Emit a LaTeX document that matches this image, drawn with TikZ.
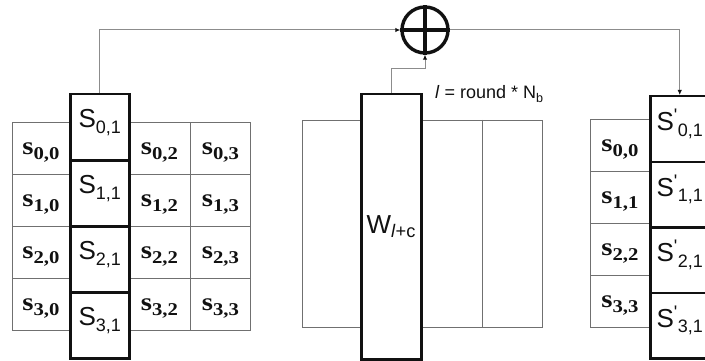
\documentclass[tikz,border=0pt]{standalone}
\usepackage{graphicx}
\usepackage{fontspec}
\setmainfont{Liberation Sans}
\newfontfamily\serifbold{Liberation Serif}
\usetikzlibrary{arrows.meta}
\definecolor{paper}{HTML}{FFFFFF}
\definecolor{ink}{HTML}{111111}
\definecolor{rule}{HTML}{707070}
\definecolor{wiregray}{HTML}{8C8C8C}
\tikzset{
  gridcell/.style={draw=rule,line width=.9pt,anchor=north west,
                   inner sep=0pt,minimum height=52pt},
  wordbox/.style={draw=ink,line width=2.5pt,fill=paper,anchor=north west,
                  inner sep=0pt,minimum width=59pt},
  wire/.style={draw=wiregray,line width=1pt},
  feed/.style={-{Latex[length=5pt,width=4.5pt,color=ink]}},
  every node/.style={text=ink}
}
\newcommand{\cellfont}{\serifbold\bfseries\fontsize{25}{25}\selectfont}
\newcommand{\colfont}{\fontsize{26}{26}\selectfont}
\newcommand{\wordfont}{\fontsize{26}{26}\selectfont}
\newcommand{\notefont}{\fontsize{18}{18}\selectfont}
\newcommand{\cellsym}[1]{\scalebox{1.15}[1]{s\raisebox{-.2em}{\fontsize{18}{18}\selectfont #1}}}
\newcommand{\colsym}[1]{S\raisebox{-.22em}{\fontsize{18}{18}\selectfont #1}}
\newcommand{\newsym}[1]{S\textsuperscript{\textquotesingle}\raisebox{-.22em}{\fontsize{18}{18}\selectfont #1}}

\begin{document}
\begin{tikzpicture}[x=1pt,y=-1pt]
  \useasboundingbox (0,0) rectangle (705,361);
  \clip (0,0) rectangle (705,361);
  \fill[paper] (0,0) rectangle (705,361);

  % ======================== LEFT STATE ========================
  \foreach \r in {0,...,3}{
    \foreach \c/\x/\w in {0/12/57,2/128/62,3/190/60}{
      \node[gridcell,minimum width=\w pt,
            label={[font=\cellfont,yshift=-4pt]center:\cellsym{\r,\c}}]
        (ls\r\c) at (\x,122+52*\r) {};
    }
  }
  % highlighted column
  \foreach \r in {0,...,3}{
    \node[wordbox,minimum height=66pt,
          label={[font=\colfont,anchor=north,inner sep=0pt,yshift=-16pt]north:\colsym{\r,1}}]
      (lc\r) at (69,93+66*\r) {};
  }

  % ======================== KEY SCHEDULE ========================
  \draw[rule,line width=.9pt] (302,120) rectangle (542,327);
  \draw[rule,line width=.9pt] (482,120) -- (482,327);
  \node[wordbox,minimum width=60pt,minimum height=265pt,font=\wordfont]
    (w) at (360,93) {W\textsubscript{\textit{l}+c}};
  \node[anchor=west,inner sep=0pt,font=\notefont] (note) at (435,94)
    {\textit{l} = round * N\textsubscript{b}};

  % xor
  \node[circle,draw=ink,fill=paper,line width=3.4pt,minimum size=46pt,inner sep=0pt]
    (xor) at (425,30) {};
  \draw[ink,line width=3.2pt] (xor.north) -- (xor.south) (xor.west) -- (xor.east);

  % ======================== RIGHT STATE ========================
  \foreach \r in {0,...,3}{
    \node[gridcell,minimum width=59pt,
          label={[font=\cellfont,yshift=-4pt]center:\cellsym{\r,\r}}]
      (rs\r) at (590,119+52*\r) {};
  }
  \foreach \r in {0,...,3}{
    \node[wordbox,minimum height=65.5pt,
          label={[font=\colfont,anchor=north,inner sep=0pt,yshift=-14pt]north:\newsym{\r,1}}]
      (rc\r) at (649,95+65.5*\r) {};
  }

  % connectors
  \draw[wire,feed] (lc0.north) |- (xor.west);
  \draw[wire,feed] (w.north) -- ++(0,-24) -| (xor.south);
  \draw[wire,feed] (xor.east) -| (rc0.north);
\end{tikzpicture}
\end{document}
